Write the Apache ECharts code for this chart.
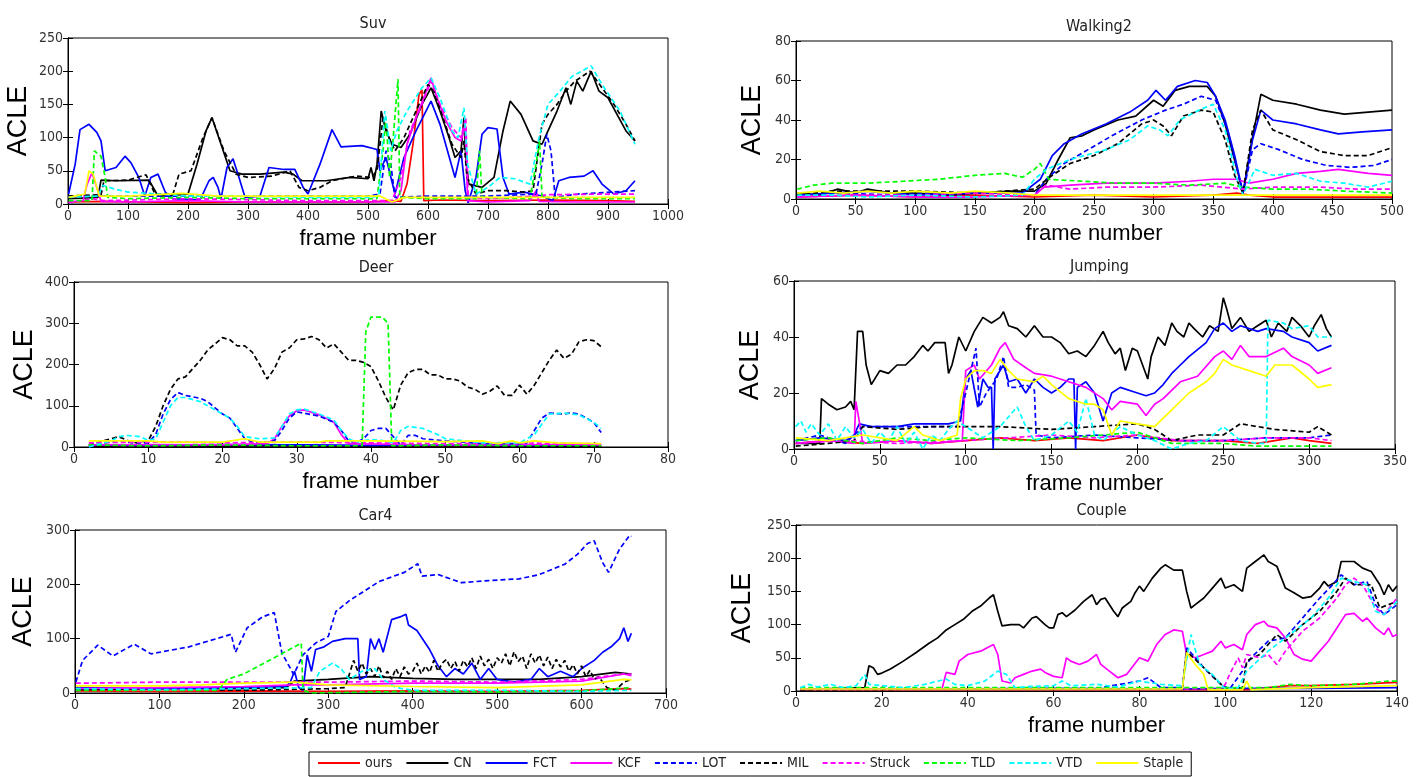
<!DOCTYPE html>
<html>
<head>
<meta charset="utf-8">
<script src="https://cdn.jsdelivr.net/npm/echarts@6/dist/echarts.min.js"></script>
<style>
  html, body { margin: 0; padding: 0; background: #fff; }
  #box { width: 1424px; height: 777px; }
</style>
</head>
<body>
<div id="box"></div>
<script>
// trackers, in plotting order (later ones drawn on top)
const trackers = ["ours", "CN", "FCT", "KCF", "LOT", "MIL", "Struck", "TLD", "VTD", "Staple"];

// tick settings of each panel
const panelTitles = ["Suv", "Walking2", "Deer", "Jumping", "Car4", "Couple"];
const xMaxes = [1000, 500, 80, 350, 700, 140];
const xSteps = [100, 50, 10, 50, 100, 20];
const yMaxes = [250, 80, 400, 60, 300, 250];
const ySteps = [50, 20, 100, 20, 100, 50];

//%% 1 Suv  [frame, ACLE]
const suv = {
  ours: [[1,3],[60,4],[120,3],[200,2],[300,3],[400,3],[500,3],[540,5],[555,4],[565,30],[575,90],[585,165],[590,172],[593,5],[620,6],[700,5],[800,6],[900,5],[945,4]],
  CN: [[1,8],[50,10],[55,36],[80,35],[135,36],[150,12],[200,15],[215,60],[230,110],[240,130],[255,90],[270,50],[290,45],[320,45],[360,48],[375,45],[390,35],[430,35],[470,40],[500,38],[505,55],[510,35],[515,60],[522,140],[530,110],[540,90],[555,85],[570,105],[590,150],[605,175],[620,140],[635,100],[645,70],[655,80],[660,130],[663,70],[668,30],[690,25],[710,40],[725,110],[737,155],[755,135],[775,95],[790,90],[800,110],[815,140],[830,175],[838,150],[848,185],[858,170],[872,200],[885,170],[900,160],[915,135],[930,110],[945,95]],
  FCT: [[1,15],[12,60],[20,112],[35,120],[48,108],[55,95],[62,50],[80,55],[95,72],[105,62],[118,40],[128,12],[138,40],[150,45],[162,18],[175,8],[220,6],[235,35],[242,40],[250,25],[255,8],[265,55],[275,68],[285,40],[295,10],[320,12],[335,55],[360,52],[378,52],[392,25],[400,15],[420,60],[440,112],[455,86],[490,88],[515,82],[520,50],[530,70],[545,15],[560,70],[580,110],[605,155],[620,120],[645,40],[655,80],[662,20],[667,2],[680,40],[690,105],[700,115],[715,113],[725,40],[735,15],[760,18],[790,12],[808,5],[818,35],[835,40],[860,42],[875,50],[890,30],[910,15],[930,20],[945,35]],
  KCF: [[1,3],[25,5],[32,30],[40,47],[48,25],[55,4],[100,3],[200,5],[300,3],[400,3],[500,3],[545,3],[555,20],[565,90],[580,130],[595,165],[605,190],[615,160],[630,125],[645,100],[655,95],[662,120],[666,5],[700,3],[770,5],[780,20],[785,4],[850,3],[945,3]],
  LOT: [[1,12],[100,12],[200,12],[300,12],[400,12],[500,12],[520,15],[530,80],[538,60],[545,10],[600,12],[700,12],[780,15],[790,60],[798,105],[805,80],[812,10],[850,15],[945,20]],
  MIL: [[1,12],[55,14],[60,35],[100,36],[130,44],[145,15],[175,15],[185,45],[205,50],[225,100],[240,130],[260,80],[280,45],[300,40],[340,42],[370,50],[385,25],[400,20],[420,25],[440,35],[480,42],[505,40],[515,50],[525,130],[535,100],[545,80],[560,100],[580,140],[600,180],[610,170],[625,130],[640,90],[655,70],[660,95],[665,40],[680,15],[700,20],[730,20],[760,18],[775,20],[790,120],[800,135],[815,150],[830,170],[845,185],[870,200],[890,175],[910,150],[930,120],[945,95]],
  Struck: [[1,2],[40,8],[60,5],[200,8],[400,5],[540,5],[555,40],[570,110],[590,150],[605,185],[620,150],[640,115],[655,100],[663,130],[667,10],[700,8],[780,12],[800,14],[900,15],[945,15]],
  TLD: [[1,5],[40,5],[44,80],[55,72],[62,40],[66,10],[100,8],[200,10],[300,8],[400,8],[515,8],[525,80],[530,130],[536,40],[542,100],[550,188],[553,10],[600,8],[680,8],[686,80],[690,10],[770,8],[780,60],[786,95],[790,10],[850,8],[945,8]],
  VTD: [[1,10],[50,12],[58,28],[80,22],[100,18],[150,15],[200,12],[300,12],[400,10],[500,10],[518,12],[528,140],[538,80],[548,110],[565,140],[590,175],[605,190],[620,160],[640,110],[650,100],[660,145],[666,60],[680,15],[700,25],[720,40],[745,38],[770,30],[785,100],[800,150],[820,170],[840,192],[872,208],[890,180],[920,140],[945,90]],
  Staple: [[1,10],[28,15],[35,50],[42,45],[52,12],[100,12],[190,16],[250,12],[400,12],[520,12],[540,3],[560,10],[700,10],[800,10],[945,10]]
};

//%% 2 Walking2
const walking2 = {
  ours: [[1,1],[50,2],[100,1],[150,2],[200,1],[250,2],[300,1],[350,2],[370,3],[380,2],[400,1],[450,1],[500,1]],
  CN: [[1,3],[20,2],[35,5],[50,3],[60,5],[80,3],[100,3],[130,2],[150,3],[180,4],[200,4],[210,8],[220,20],[230,31],[240,32],[250,35],[270,40],[285,42],[300,50],[308,47],[318,55],[330,57],[345,57],[352,52],[360,38],[370,15],[375,3],[382,28],[390,53],[400,50],[420,48],[440,45],[460,43],[480,44],[500,45]],
  FCT: [[1,2],[30,3],[60,4],[100,2],[150,3],[190,3],[205,10],[215,22],[225,28],[240,33],[260,38],[280,44],[295,50],[302,55],[310,50],[320,57],[335,60],[345,59],[352,52],[360,40],[368,22],[375,3],[383,30],[390,45],[400,40],[420,38],[440,35],[455,33],[475,34],[500,35]],
  KCF: [[1,1],[50,2],[100,1],[150,1],[200,2],[208,6],[230,7],[260,8],[300,8],[330,9],[350,10],[370,10],[380,8],[400,10],[420,13],[440,14],[455,15],[480,13],[500,12]],
  LOT: [[1,2],[40,3],[80,2],[120,3],[160,3],[200,2],[210,10],[225,18],[245,25],[265,32],[290,40],[310,45],[325,48],[340,52],[352,50],[362,35],[375,3],[383,25],[390,28],[405,25],[425,20],[445,17],[465,16],[485,17],[500,20]],
  MIL: [[1,2],[30,4],[60,4],[100,4],[150,3],[200,5],[215,12],[230,18],[250,22],[270,28],[290,38],[300,40],[308,37],[315,32],[325,42],[340,45],[350,44],[360,30],[368,12],[375,3],[383,35],[390,45],[400,35],[420,30],[440,24],[460,22],[480,22],[500,26]],
  Struck: [[1,1],[50,2],[100,2],[150,3],[200,2],[210,7],[230,5],[260,6],[300,6],[340,7],[375,5],[400,6],[440,6],[470,5],[500,5]],
  TLD: [[1,5],[15,7],[30,8],[60,8],[90,9],[120,10],[150,12],[175,13],[190,11],[200,15],[205,18],[212,10],[240,9],[270,8],[300,8],[330,7],[360,8],[375,6],[400,5],[430,5],[460,4],[500,3]],
  VTD: [[1,2],[30,2],[60,1],[100,2],[150,1],[190,2],[200,10],[210,15],[230,20],[260,25],[280,30],[295,37],[305,35],[312,32],[322,40],[338,45],[350,48],[360,35],[370,10],[375,2],[385,15],[400,12],[420,13],[440,9],[460,8],[480,6],[500,9]],
  Staple: [[1,3],[20,4],[40,3],[60,4],[80,3],[100,4],[130,3],[150,4],[180,3],[200,2],[250,2],[300,2],[350,2],[400,2],[450,2],[500,2]]
};

//%% 3 Deer
const deer = {
  ours: [[2,4],[10,3],[20,5],[30,4],[40,3],[50,4],[60,3],[71,4]],
  CN: [[2,2],[10,3],[20,2],[30,3],[40,2],[50,3],[60,2],[71,2]],
  FCT: [[2,5],[10,4],[20,6],[30,5],[40,4],[50,5],[60,4],[71,5]],
  KCF: [[2,5],[10,6],[20,5],[26,8],[27,20],[28,50],[29,75],[30,88],[31,90],[33,78],[35,60],[36,30],[37,8],[45,6],[55,5],[65,6],[71,5]],
  LOT: [[2,0],[4,10],[6,15],[8,10],[10,10],[11,30],[12,80],[13,115],[14,132],[15,125],[17,118],[18,110],[19,95],[20,80],[21,70],[22,45],[23,20],[24,12],[26,12],[27,15],[28,40],[29,70],[30,85],[31,82],[33,75],[35,60],[36,40],[37,15],[38,10],[39,20],[40,40],[41,45],[42,45],[43,25],[44,5],[45,28],[46,28],[47,20],[50,15],[55,8],[60,8],[61,10],[62,40],[63,70],[64,82],[66,80],[67,83],[68,80],[70,60],[71,35]],
  MIL: [[2,5],[5,20],[6,25],[8,10],[10,15],[11,50],[12,100],[13,140],[14,165],[15,170],[17,210],[18,235],[19,250],[20,265],[21,260],[22,245],[23,245],[24,230],[25,200],[26,165],[27,190],[28,230],[29,240],[30,260],[31,262],[32,268],[33,260],[34,240],[35,250],[36,230],[37,210],[38,210],[39,205],[40,195],[41,160],[42,120],[43,90],[44,150],[45,180],[46,188],[47,188],[48,175],[49,175],[50,165],[51,165],[52,160],[53,145],[54,140],[55,128],[56,135],[57,148],[58,125],[59,125],[60,150],[61,128],[62,150],[63,180],[64,210],[65,235],[66,215],[67,225],[68,255],[69,260],[70,258],[71,243]],
  Struck: [[2,10],[8,12],[14,12],[20,10],[30,12],[40,10],[50,8],[60,10],[70,8],[71,8]],
  TLD: [[2,5],[10,3],[20,5],[30,3],[38.8,3],[39.3,280],[40,315],[41.5,315],[42.3,300],[42.8,3],[50,5],[60,3],[71,3]],
  VTD: [[2,0],[5,15],[6,25],[7,28],[9,25],[10,15],[11,20],[12,60],[13,100],[14,120],[15,120],[17,110],[19,90],[21,70],[22,50],[23,25],[25,20],[27,22],[28,50],[29,80],[30,90],[31,92],[33,80],[35,65],[36,40],[37,20],[38,12],[39,15],[40,18],[42,15],[43,10],[44,40],[45,50],[47,45],[49,30],[50,20],[55,10],[60,10],[62,30],[64,80],[66,82],[68,78],[70,60],[71,45]],
  Staple: [[2,15],[10,15],[12,12],[20,12],[23,20],[25,12],[33,12],[34,15],[40,15],[50,13],[55,15],[57,8],[59,15],[60,10],[62,15],[65,10],[71,8]]
};

//%% 4 Jumping
const jumping = {
  ours: [[1,2],[20,3],[40,2],[60,3],[80,2],[100,3],[120,4],[140,3],[160,4],[180,3],[200,5],[220,3],[250,3],[270,2],[290,4],[300,3],[313,2]],
  CN: [[1,2],[15,2],[16,18],[20,16],[25,14],[30,15],[33,17],[35,14],[37,42],[40,42],[42,30],[45,23],[50,28],[55,27],[60,30],[65,30],[70,33],[75,37],[78,35],[82,38],[88,38],[90,27],[92,30],[96,40],[100,35],[105,42],[110,47],[115,45],[120,47],[122,49],[125,44],[130,43],[135,40],[140,44],[145,40],[150,40],[155,38],[160,34],[165,35],[170,33],[175,37],[180,42],[183,38],[187,34],[190,36],[193,28],[197,36],[200,35],[203,30],[206,25],[208,33],[212,40],[216,37],[220,45],[223,42],[227,40],[230,45],[233,43],[238,40],[242,44],[247,42],[250,54],[252,50],[255,43],[260,47],[265,42],[270,44],[275,46],[278,40],[282,45],[287,42],[290,47],[295,44],[300,40],[303,44],[307,48],[310,43],[313,40]],
  FCT: [[1,3],[15,4],[30,3],[35,5],[38,9],[45,8],[60,8],[70,9],[80,9],[90,9],[97,10],[100,25],[103,28],[107,15],[110,25],[113,22],[115,22],[116,0],[117,25],[122,30],[125,24],[130,25],[135,20],[140,25],[145,22],[150,20],[155,22],[160,25],[163,25],[164,0],[165,22],[170,24],[175,20],[180,10],[185,20],[190,22],[200,20],[205,19],[210,20],[215,23],[220,27],[225,30],[230,33],[240,38],[245,43],[250,45],[255,42],[260,44],[270,42],[275,43],[285,42],[290,40],[300,38],[305,35],[313,37]],
  KCF: [[1,2],[20,3],[35,2],[36,17],[38,10],[40,2],[60,3],[80,2],[98,3],[100,28],[105,30],[108,25],[115,30],[120,36],[123,38],[128,32],[135,29],[140,27],[150,26],[160,24],[170,22],[180,18],[185,14],[190,17],[200,16],[205,12],[210,16],[215,18],[225,24],[235,26],[245,33],[250,35],[255,32],[260,37],[265,33],[275,33],[285,36],[290,33],[300,30],[305,27],[313,29]],
  LOT: [[1,3],[15,5],[30,2],[35,5],[40,8],[60,8],[80,8],[95,8],[100,20],[106,36],[108,15],[112,20],[118,25],[122,33],[125,22],[130,22],[135,23],[140,21],[141,5],[150,4],[175,5],[200,4],[225,3],[250,3],[275,4],[300,4],[313,5]],
  MIL: [[1,1],[20,2],[35,3],[40,8],[60,7],[80,8],[100,8],[120,8],[150,7],[175,8],[200,9],[210,7],[220,3],[235,5],[250,5],[260,9],[280,7],[300,6],[305,8],[313,5]],
  Struck: [[1,2],[30,3],[60,2],[100,3],[125,4],[150,5],[175,4],[200,5],[225,3],[250,3],[275,4],[300,4],[313,3]],
  TLD: [[1,3],[20,4],[40,2],[60,4],[80,3],[100,4],[130,3],[160,4],[200,6],[220,2],[250,2],[270,1],[300,1],[313,1]],
  VTD: [[1,8],[4,10],[7,6],[10,9],[15,5],[20,9],[25,3],[30,8],[35,4],[40,7],[45,2],[50,6],[55,3],[60,8],[65,2],[70,6],[75,0],[80,5],[85,3],[90,7],[95,10],[100,8],[110,4],[120,8],[130,15],[135,8],[140,3],[150,5],[160,10],[165,6],[170,18],[175,5],[180,3],[190,8],[200,5],[210,3],[220,0],[230,2],[240,3],[250,8],[260,3],[270,2],[275,2],[276,46],[285,45],[290,43],[300,44],[305,40],[313,40]],
  Staple: [[1,4],[20,3],[40,5],[60,3],[70,8],[75,5],[85,3],[95,5],[97,18],[100,25],[105,28],[110,28],[115,27],[120,32],[125,28],[130,25],[140,24],[145,26],[150,23],[160,18],[170,16],[175,16],[180,14],[185,5],[190,10],[200,9],[210,8],[215,11],[220,14],[230,20],[240,24],[245,27],[250,32],[255,30],[265,28],[275,26],[280,30],[290,30],[300,25],[305,22],[313,23]]
};

//%% 5 Car4
const car4 = {
  ours: [[1,4],[100,3],[200,4],[300,3],[400,4],[500,3],[600,5],[650,8],[659,7]],
  CN: [[1,6],[100,8],[200,8],[250,10],[260,22],[300,25],[350,30],[400,27],[450,25],[500,25],[550,25],[600,30],[640,38],[659,35]],
  FCT: [[1,10],[100,8],[200,10],[250,12],[255,20],[260,40],[265,10],[270,5],[275,70],[280,40],[285,80],[295,85],[305,95],[320,100],[335,100],[337,25],[345,30],[350,100],[355,80],[360,100],[365,75],[375,135],[385,140],[392,145],[395,125],[405,115],[420,80],[430,50],[440,30],[450,45],[460,35],[470,55],[480,25],[490,45],[500,25],[520,20],[540,25],[550,45],[560,30],[575,40],[590,30],[600,45],[615,60],[625,75],[635,85],[645,100],[650,120],[655,95],[659,110]],
  KCF: [[1,8],[100,10],[200,12],[260,15],[300,15],[400,18],[500,18],[600,22],[650,35],[659,32]],
  LOT: [[1,20],[9,60],[27,88],[45,68],[70,90],[90,72],[135,85],[185,108],[190,75],[204,120],[222,140],[236,148],[245,74],[259,34],[270,70],[285,92],[300,104],[309,150],[325,170],[341,186],[360,205],[390,222],[406,238],[411,215],[430,218],[458,203],[490,207],[526,210],[550,218],[580,237],[595,255],[607,275],[615,280],[625,240],[632,222],[645,265],[657,290],[659,288]],
  MIL: [[1,5],[100,6],[200,5],[300,8],[320,10],[330,60],[335,40],[340,55],[345,35],[350,45],[355,30],[360,50],[365,28],[370,40],[375,25],[380,45],[385,30],[390,48],[395,35],[400,40],[405,55],[410,35],[415,50],[420,38],[425,60],[430,40],[435,55],[440,62],[445,45],[450,58],[455,40],[460,60],[465,48],[470,65],[475,45],[480,68],[485,50],[490,62],[495,45],[500,65],[505,55],[510,72],[515,50],[520,76],[525,58],[530,68],[535,45],[540,72],[545,55],[550,70],[555,50],[560,66],[565,45],[570,62],[575,48],[580,60],[585,40],[590,52],[595,35],[600,50],[605,30],[610,42],[615,25],[620,30],[630,10],[640,5],[650,20],[659,25]],
  Struck: [[1,18],[100,20],[200,20],[260,20],[300,20],[400,22],[500,20],[600,25],[650,35],[659,35]],
  TLD: [[1,5],[100,5],[170,5],[180,25],[200,35],[230,60],[260,85],[268,92],[270,5],[280,0],[400,3],[500,2],[600,4],[659,10]],
  VTD: [[1,8],[100,6],[200,8],[280,10],[290,40],[305,55],[315,45],[325,25],[340,40],[355,45],[365,25],[380,10],[400,5],[500,5],[600,3],[659,5]],
  Staple: [[1,13],[100,13],[150,15],[200,18],[260,20],[300,15],[400,12],[500,10],[600,15],[650,25],[659,24]]
};

//%% 6 Couple
const couple = {
  ours: [[1,2],[30,2],[60,2],[90,2],[105,2],[110,5],[115,8],[120,8],[130,10],[140,13]],
  CN: [[1,2],[16,5],[17,38],[18,35],[19,25],[20,27],[22,33],[25,45],[28,58],[31,72],[33,80],[35,92],[37,100],[39,108],[41,120],[43,128],[45,140],[46,145],[47,120],[48,98],[50,100],[52,100],[53,95],[55,110],[56,112],[58,100],[59,95],[60,95],[61,115],[62,118],[63,112],[65,122],[67,135],[69,145],[70,130],[71,138],[72,140],[74,120],[75,112],[76,125],[78,135],[79,148],[80,158],[81,150],[83,170],[85,185],[86,190],[88,182],[90,182],[91,150],[92,125],[93,130],[95,140],[97,155],[99,170],[100,155],[102,160],[103,155],[104,150],[105,185],[107,195],[109,205],[110,195],[112,188],[114,155],[116,148],[118,140],[120,142],[122,155],[123,165],[124,158],[126,165],[127,195],[130,195],[132,185],[134,180],[136,160],[137,145],[138,160],[139,150],[140,158]],
  FCT: [[1,3],[30,3],[60,4],[90,3],[100,4],[120,4],[140,5]],
  KCF: [[1,3],[34,3],[35,28],[37,25],[38,45],[40,55],[43,60],[46,70],[47,55],[48,15],[50,12],[51,20],[53,25],[55,30],[57,33],[58,28],[60,22],[62,20],[63,50],[64,45],[66,40],[68,45],[70,55],[71,40],[73,30],[75,20],[77,25],[80,50],[82,45],[84,70],[86,85],[88,92],[90,90],[91,55],[93,50],[95,55],[97,60],[99,75],[100,65],[102,70],[104,62],[105,85],[107,100],[109,105],[110,98],[112,95],[114,80],[116,55],[118,48],[120,45],[122,60],[124,75],[126,95],[128,115],[130,117],[132,105],[133,110],[135,95],[137,85],[138,95],[139,82],[140,85]],
  LOT: [[1,3],[40,3],[70,4],[80,15],[82,20],[85,5],[90,5],[91,65],[95,35],[99,10],[101,3],[104,30],[106,50],[110,75],[114,80],[118,110],[122,140],[125,160],[127,175],[130,160],[133,165],[135,130],[137,115],[140,130]],
  MIL: [[1,2],[40,3],[70,3],[90,3],[91,60],[95,35],[99,10],[100,3],[104,5],[105,45],[108,55],[112,85],[114,75],[118,100],[122,120],[126,150],[128,170],[130,160],[134,160],[136,125],[138,130],[140,135]],
  Struck: [[1,3],[50,4],[90,3],[99,4],[100,10],[101,25],[103,50],[104,35],[105,55],[108,50],[110,55],[112,40],[114,60],[118,90],[122,110],[126,140],[128,160],[130,170],[132,160],[135,125],[137,115],[140,140]],
  TLD: [[1,5],[30,5],[60,5],[90,5],[100,5],[110,5],[115,10],[120,8],[130,10],[138,15],[140,15]],
  VTD: [[1,5],[3,10],[5,6],[8,10],[11,5],[14,8],[16,25],[17,10],[20,8],[25,5],[30,10],[35,18],[37,10],[40,8],[44,15],[47,30],[49,25],[51,5],[55,7],[60,8],[62,15],[64,8],[70,10],[75,6],[80,15],[85,10],[90,8],[92,85],[94,40],[97,25],[99,10],[100,3],[103,5],[105,30],[110,60],[115,85],[120,110],[124,140],[127,170],[130,165],[133,160],[135,120],[137,115],[140,135]],
  Staple: [[1,3],[30,3],[60,3],[90,3],[91,58],[93,40],[95,25],[96,2],[100,2],[104,2],[105,15],[106,2],[120,5],[140,8]]
};

const panelData = [suv, walking2, deer, jumping, car4, couple];

// line look of each tracker
const lineColors = ["#ff0000", "#000000", "#0000ff", "#ff00ff", "#0000ff", "#000000", "#ff00ff", "#00ff00", "#00ffff", "#ffff00"];
const lineDashed = [false, false, false, false, true, true, true, true, true, false];

// panel boxes in px: [left, top, width, height], y-name gap
const boxes = [
  [68, 38, 600, 166],
  [796, 41, 596, 158],
  [74, 282, 594, 165],
  [794, 281, 601, 168],
  [75, 530, 591, 163],
  [796, 525, 601, 166]
];
const yNameGaps = [36, 30, 36, 30, 38, 40];

const font = "'Liberation Sans Narrow', 'DejaVu Sans Condensed', 'Liberation Sans', Arial, sans-serif";
const wideFont = "'Liberation Sans', Arial, sans-serif";

let chart = echarts.init(document.getElementById("box"), null, { renderer: "canvas" });

let grid = [], xAxis = [], yAxis = [], series = [], title = [];

boxes.forEach((b, i) => {
  grid.push({
    left: b[0], top: b[1], width: b[2], height: b[3],
    show: true, borderColor: "#000", borderWidth: 1, backgroundColor: "#fff"
  });
  title.push({
    text: panelTitles[i],
    left: b[0] + b[2] / 2,
    top: b[1] - 27,
    textAlign: "center",
    textStyle: { fontFamily: font, fontSize: 16, fontWeight: "normal", color: "#222" }
  });

  //# axes: bottom/left carry labels, top/right only ticks (matlab box)
  let tick = { inside: true, length: 5, lineStyle: { color: "#000" } };
  let line = { show: true, lineStyle: { color: "#000", width: 1 } };
  let lbl = { fontFamily: font, fontSize: 14, color: "#333", margin: 5, formatter: v => String(v) };
  xAxis.push({
    gridIndex: i, type: "value", position: "bottom",
    min: 0, max: xMaxes[i], interval: xSteps[i],
    axisLine: line, axisTick: tick, axisLabel: lbl, splitLine: { show: false },
    name: "frame number", nameLocation: "middle", nameGap: 24,
    nameTextStyle: { fontFamily: wideFont, fontSize: 22, color: "#000" }
  });
  xAxis.push({
    gridIndex: i, type: "value", position: "top",
    min: 0, max: xMaxes[i], interval: xSteps[i],
    axisLine: line, axisTick: tick, axisLabel: { show: false }, splitLine: { show: false }
  });
  yAxis.push({
    gridIndex: i, type: "value", position: "left",
    min: 0, max: yMaxes[i], interval: ySteps[i],
    axisLine: line, axisTick: tick, axisLabel: lbl, splitLine: { show: false },
    name: "ACLE", nameLocation: "middle", nameGap: yNameGaps[i],
    nameTextStyle: { fontFamily: wideFont, fontSize: 27, color: "#000" }
  });
  yAxis.push({
    gridIndex: i, type: "value", position: "right",
    min: 0, max: yMaxes[i], interval: ySteps[i],
    axisLine: line, axisTick: tick, axisLabel: { show: false }, splitLine: { show: false }
  });

  //# series of this panel
  let d = panelData[i];
  trackers.forEach((t, k) => {
    series.push({
      type: "line",
      name: t,
      xAxisIndex: 2 * i,
      yAxisIndex: 2 * i,
      data: d[t],
      symbol: "none",
      showSymbol: false,
      clip: true,
      color: lineColors[k],
      lineStyle: { color: lineColors[k], width: 1.7, type: lineDashed[k] ? [5, 3] : "solid" }
    });
  });
});

let option = {
  animation: false,
  backgroundColor: "#fff",
  title: title,
  grid: grid,
  xAxis: xAxis,
  yAxis: yAxis,
  legend: {
    data: trackers,
    left: 309,
    top: 752,
    orient: "horizontal",
    backgroundColor: "#fff",
    borderColor: "#000",
    borderWidth: 1,
    padding: [4, 8, 6, 8],
    itemWidth: 42,
    itemHeight: 12,
    itemGap: 13,
    itemStyle: { opacity: 0 },
    textStyle: { fontFamily: font, fontSize: 14, color: "#222" }
  },
  series: series
};

chart.setOption(option);
</script>
</body>
</html>
